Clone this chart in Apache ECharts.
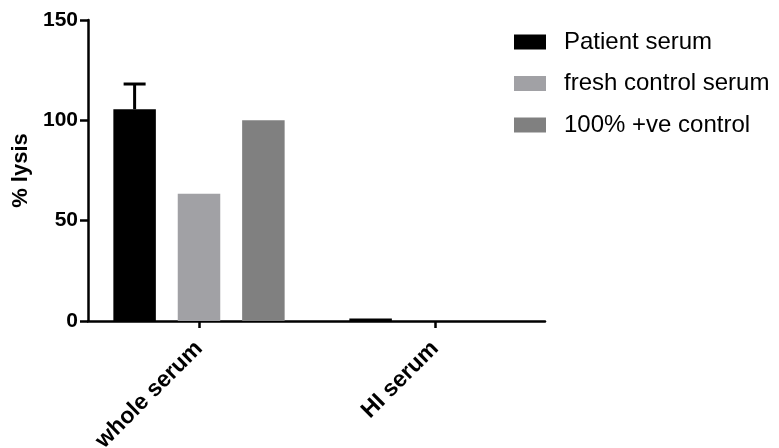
<!DOCTYPE html>
<html>
<head>
<meta charset="utf-8">
<script src="https://cdn.jsdelivr.net/npm/echarts@6/dist/echarts.min.js"></script>
<style>
  html, body { margin: 0; padding: 0; background: #fff; }
  #chart { width: 779px; height: 448px; }
</style>
</head>
<body>
<div id="chart"></div>
<script>
// Groups on the x axis
const categories = ['whole serum', 'HI serum'];

// % lysis per serum type
const patientSerum = [105.5, 1.2];
const patientSerumSD = [12.6, 0];
const freshControlSerum = [63.4, 0];
const positiveControl = [100, null];

// Y axis ticks
const yMin = 0, yMax = 150, yStep = 50;

const seriesNames = ['Patient serum', 'fresh control serum', '100% +ve control'];
const colors = ['#000000', '#a1a1a5', '#808080'];

const BAR_W = 42.5;
const BAR_GAP = 0.515;

const chart = echarts.init(document.getElementById('chart'));

const fontFamily = 'Liberation Sans, Arial, sans-serif';

chart.setOption({
  animation: false,
  textStyle: { fontFamily },
  grid: [
    { left: 81, right: 226, top: 20, bottom: 127, containLabel: false, outerBoundsMode: 'none' },
    { left: 88, right: 234, top: 20, bottom: 127, containLabel: false, outerBoundsMode: 'none' }
  ],
  legend: {
    orient: 'vertical',
    left: 514,
    top: 30,
    padding: 0,
    itemWidth: 32,
    itemHeight: 15,
    itemGap: 17.5,
    icon: 'rect',
    data: seriesNames,
    textStyle: { fontSize: 24, color: '#000', fontFamily, padding: [0, 0, 0, 13] }
  },
  xAxis: [
    {
      type: 'category',
      gridIndex: 0,
      data: categories,
      boundaryGap: true,
      axisLine: { show: false },
      axisTick: { show: true, alignWithLabel: true, length: 7, lineStyle: { color: '#000', width: 2.5 } },
      axisLabel: {
        rotate: 45,
        margin: 24,
        fontSize: 23,
        fontWeight: 'bold',
        color: '#000',
        fontFamily
      },
      splitLine: { show: false }
    },
    {
      // Plain baseline spanning the plot width
      type: 'value',
      gridIndex: 1,
      min: 0,
      max: 1,
      axisLine: { show: true, onZero: false, lineStyle: { color: '#000', width: 2.5 } },
      axisTick: { show: false },
      axisLabel: { show: false },
      splitLine: { show: false }
    }
  ],
  yAxis: [
    {
      type: 'value',
      gridIndex: 0,
      min: yMin,
      max: yMax,
      interval: yStep,
      offset: -7,
      name: '% lysis',
      nameLocation: 'middle',
      nameRotate: 90,
      nameGap: 56,
      nameTextStyle: { fontSize: 22, fontWeight: 'bold', color: '#000', fontFamily },
      axisLine: { show: true, lineStyle: { color: '#000', width: 2.5 } },
      axisTick: { show: true, length: 8, lineStyle: { color: '#000', width: 2.5 } },
      axisLabel: { fontSize: 21, fontWeight: 'bold', color: '#000', margin: 10, fontFamily },
      splitLine: { show: false }
    },
    {
      type: 'value',
      gridIndex: 1,
      show: false
    }
  ],
  series: [
    {
      name: seriesNames[0],
      type: 'bar',
      data: patientSerum,
      barWidth: BAR_W,
      barGap: (BAR_GAP * 100) + '%',
      itemStyle: { color: colors[0] }
    },
    {
      name: seriesNames[1],
      type: 'bar',
      data: freshControlSerum,
      barWidth: BAR_W,
      barGap: (BAR_GAP * 100) + '%',
      itemStyle: { color: colors[1] }
    },
    {
      name: seriesNames[2],
      type: 'bar',
      data: positiveControl,
      barWidth: BAR_W,
      barGap: (BAR_GAP * 100) + '%',
      itemStyle: { color: colors[2] }
    },
    {
      // Upper error bars on the patient serum bars
      name: 'patient SD',
      type: 'custom',
      data: patientSerum.map((v, i) => [i, v, v + patientSerumSD[i]]),
      renderItem: function (params, api) {
        const sd = api.value(2) - api.value(1);
        if (!(sd > 0)) return null;
        const base = api.coord([api.value(0), api.value(1)]);
        const top = api.coord([api.value(0), api.value(2)]);
        const x = base[0] - BAR_W * (1 + BAR_GAP);
        const capHalf = 11;
        const style = { stroke: '#000', lineWidth: 3 };
        return {
          type: 'group',
          children: [
            { type: 'line', shape: { x1: x, y1: base[1], x2: x, y2: top[1] }, style },
            { type: 'line', shape: { x1: x - capHalf, y1: top[1], x2: x + capHalf, y2: top[1] }, style }
          ]
        };
      },
      z: 3
    }
  ]
});
</script>
</body>
</html>
